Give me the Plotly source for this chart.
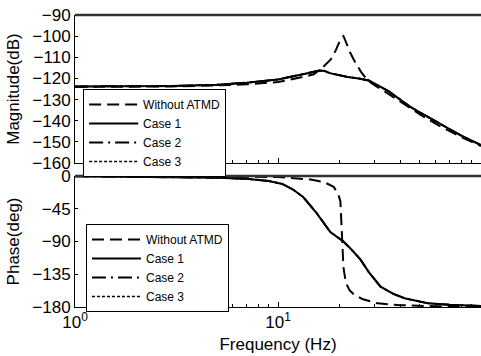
import plotly.graph_objects as go

# ---- data ----
freq_mag_wo = [1, 3, 5, 7, 10, 12, 14, 15, 16.3, 18.2, 19.3, 20.4, 21, 21.4, 22.6, 24.1, 25.7, 27.5, 30, 35, 40, 50, 60, 70, 80, 90, 100]
mag_wo = [-124, -123.8, -123.3, -122.8, -121.7, -120.3, -118.8, -118, -115.5, -111, -106.5, -101, -100, -101.8, -107.5, -112.7, -117, -120.7, -123.3, -127.3, -131, -137, -141.5, -145, -147.8, -150, -152]

freq_mag_c = [1, 3, 5, 7, 10, 12, 14, 16, 17, 18, 20, 22, 25, 28, 30, 35, 40, 45, 50, 60, 70, 80, 90, 100]
mag_case1 = [-123.8, -123.6, -123, -122, -120.5, -119, -117.5, -116.2, -116.5, -117.5, -118.6, -119.3, -120, -121, -122.5, -126, -130, -133.5, -136, -140.5, -144, -147, -149.5, -151.5]
mag_case2 = [-123.8, -123.6, -123, -122, -120.5, -119, -117.5, -116.2, -116.5, -117.5, -118.6, -119.3, -120, -121, -122.5, -126, -130, -133.5, -136, -140.5, -144, -147, -149.5, -151.5]
mag_case3 = [-123.8, -123.6, -123, -122, -120.5, -119, -117.5, -116.2, -116.5, -117.5, -118.6, -119.3, -120, -121, -122.5, -126, -130, -133.5, -136, -140.5, -144, -147, -149.5, -151.5]

freq_ph_wo = [1, 5, 10, 14.5, 17, 18.8, 19.8, 20.3, 20.6, 21, 21.4, 21.7, 22.5, 23.7, 26, 30.9, 40, 60, 100]
ph_wo = [0, -0.5, -1.5, -5, -9, -15, -25, -35, -80, -125, -140, -148, -157, -163, -169, -175, -177.5, -179, -179.5]

freq_ph_c = [1, 3, 5, 7, 9, 10.5, 11.9, 13.3, 15.5, 18.1, 21, 23, 25.5, 28, 32, 37, 42, 55, 70, 100]
ph_case1 = [-0.5, -1.5, -2.5, -4, -7, -11, -19, -29, -51, -77, -90, -101, -115, -132, -152, -162, -168, -175, -177, -178.5]
ph_case2 = [-0.5, -1.5, -2.5, -4, -7, -11, -19, -29, -51, -77, -90, -101, -115, -132, -152, -162, -168, -175, -177, -178.5]
ph_case3 = [-0.5, -1.5, -2.5, -4, -7, -11, -19, -29, -51, -77, -90, -101, -115, -132, -152, -162, -168, -175, -177, -178.5]

series_names = ["Without ATMD", "Case 1", "Case 2", "Case 3"]
mag_ticks = [-90, -100, -110, -120, -130, -140, -150, -160]
phase_ticks = [0, -45, -90, -135, -180]
x_major = [1, 10, 100]
x_major_text = ["10<sup>0</sup>", "10<sup>1</sup>", "10<sup>2</sup>"]
x_minor = [2, 3, 4, 5, 6, 7, 8, 9, 20, 30, 40, 50, 60, 70, 80, 90]

# ---- styles ----
styles = [
    dict(color="black", width=2, dash="12px,6px"),
    dict(color="black", width=2, dash="solid"),
    dict(color="black", width=2, dash="14px,5px,2px,5px"),
    dict(color="black", width=1.5, dash="3px,2px"),
]

FONT = "Liberation Sans, Arial, sans-serif"
fig = go.Figure()

top = [(freq_mag_wo, mag_wo), (freq_mag_c, mag_case1), (freq_mag_c, mag_case2), (freq_mag_c, mag_case3)]
bot = [(freq_ph_wo, ph_wo), (freq_ph_c, ph_case1), (freq_ph_c, ph_case2), (freq_ph_c, ph_case3)]

for name, (fx, fy), st in zip(series_names, top, styles):
    fig.add_trace(go.Scatter(x=fx, y=fy, mode="lines", name=name, line=st,
                             xaxis="x", yaxis="y", legend="legend"))
for name, (fx, fy), st in zip(series_names, bot, styles):
    fig.add_trace(go.Scatter(x=fx, y=fy, mode="lines", name=name, line=st,
                             xaxis="x2", yaxis="y2", legend="legend2"))

axis_common = dict(showline=True, linecolor="black", linewidth=1, showgrid=False,
                   zeroline=False, ticks="inside", tickcolor="black", automargin=False,
                   tickfont=dict(family=FONT, size=17, color="black"))
xcommon = dict(axis_common, type="log", range=[0, 2], tickvals=x_major, ticklen=5,
               minor=dict(tickvals=x_minor, ticks="inside", ticklen=3, tickcolor="black"))

legend_common = dict(xanchor="left", yanchor="top", bgcolor="white",
                     bordercolor="black", borderwidth=1, itemwidth=49,
                     font=dict(family=FONT, size=12), tracegroupgap=0)

fig.update_layout(
    width=481, height=356,
    margin=dict(l=75, r=0, t=15, b=49, autoexpand=False),
    paper_bgcolor="white", plot_bgcolor="white",
    font=dict(family=FONT, color="black"),
    xaxis=dict(xcommon, anchor="y", showticklabels=False),
    yaxis=dict(axis_common, domain=[0.493, 1], range=[-160, -90], tickvals=mag_ticks, ticklen=3,
               title=dict(text="Magnitude(dB)", font=dict(family=FONT, size=17), standoff=8)),
    xaxis2=dict(xcommon, anchor="y2", ticktext=x_major_text,
                title=dict(text="Frequency (Hz)", font=dict(family=FONT, size=17), standoff=6)),
    yaxis2=dict(axis_common, domain=[0, 0.449], range=[-180, 0], tickvals=phase_ticks, ticklen=3,
                title=dict(text="Phase(deg)", font=dict(family=FONT, size=17), standoff=8)),
    legend=dict(legend_common, x=0.02, y=0.747),
    legend2=dict(legend_common, x=0.027, y=0.284),
    shapes=[
        dict(type="line", xref="x domain", yref="y domain", x0=0, x1=1, y0=1, y1=1,
             line=dict(color="#333", width=2.5)),
        dict(type="line", xref="x2 domain", yref="y2 domain", x0=0, x1=1, y0=1, y1=1,
             line=dict(color="#333", width=2.5)),
    ],
)

fig.write_html("out.html", config={"displayModeBar": False})

# remove the default page margin so the 481x356 figure fills the window
with open("out.html", encoding="utf-8") as f:
    html = f.read()
html = html.replace("<head>", "<head><style>html,body{margin:0;padding:0;overflow:hidden;}</style>", 1)
with open("out.html", "w", encoding="utf-8") as f:
    f.write(html)
